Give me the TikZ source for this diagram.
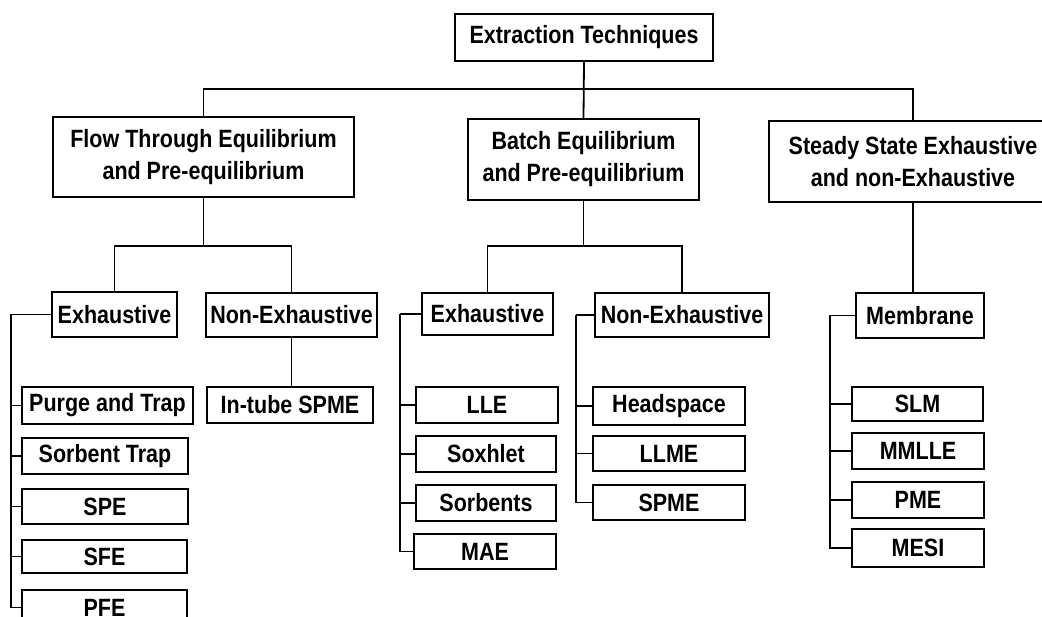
\documentclass[tikz,border=0pt]{standalone}
\usepackage{fontspec}
\setmainfont[FakeStretch=0.86]{Liberation Sans}
\tikzset{
	box/.style 2 args={draw, line width=1.8pt, minimum width=#1, minimum height=#2, inner sep=0pt, align=center, font=\fontsize{25}{32}\selectfont\bfseries},
	link/.style={line width=1.8pt}
}
\begin{document}
\begin{tikzpicture}[x=1pt,y=-1pt]
		\clip (0,0) rectangle (1042,617);
		% top level
		\node[box={258pt}{47pt}] (top) at (584,37.5) {Extraction Techniques};
		\node[box={301pt}{80pt}] (flow) at (203.5,157) {Flow Through Equilibrium\\and Pre-equilibrium};
		\node[box={231pt}{81pt}] (batch) at (583.5,159.5) {Batch Equilibrium\\and Pre-equilibrium};
		\node[box={288pt}{81pt}] (steady) at (913,161.5) {Steady State Exhaustive\\and non-Exhaustive};
		\draw[link] (top.south) -- (batch.north);
		\draw[link] (flow.north) -- ++(0,-27) -| (steady.north);
		% flow through
		\node[box={125pt}{45pt}] (fexh) at (114.5,314.5) {Exhaustive};
		\node[box={171pt}{44pt}] (fnon) at (291.5,315) {Non-Exhaustive};
		\draw[link] (flow.south) -- ++(0,48) coordinate (fb);
		\draw[link] (fexh.north) |- (fb) -| (fnon.north);
		\node[box={166pt}{36pt}] (intube) at (290,405) {In-tube SPME};
		\draw[link] (fnon.south) -- (fnon.south |- intube.north);
		\node[box={171pt}{37pt}] (purge) at (107.5,405.5) {Purge and Trap};
		\node[box={166pt}{36pt}] (strap) at (105,456) {Sorbent Trap};
		\node[box={166pt}{35pt}] (spe) at (105,506.5) {SPE};
		\node[box={165pt}{33pt}] (sfe) at (104.5,556.5) {SFE};
		\node[box={165pt}{35pt}] (pfe) at (104.5,607.5) {PFE};
		\draw[link] (fexh.west) -- ++(-40,0) coordinate (fsp);
		\foreach \n in {purge,strap,spe,sfe,pfe}
			\draw[link] (\n.west) -| (fsp);
		% batch
		\node[box={131pt}{42pt}] (bexh) at (487.5,314) {Exhaustive};
		\node[box={174pt}{44pt}] (bnon) at (682,315) {Non-Exhaustive};
		\draw[link] (batch.south) -- ++(0,45) coordinate (bb);
		\draw[link] (bexh.north) |- (bb) -| (bnon.north);
		\node[box={142pt}{36pt}] (lle) at (487,405) {LLE};
		\node[box={140pt}{36pt}] (soxhlet) at (486,454) {Soxhlet};
		\node[box={140pt}{36pt}] (sorbents) at (486,503) {Sorbents};
		\node[box={142pt}{35pt}] (mae) at (485,551.5) {MAE};
		\draw[link] (bexh.west) -- ++(-21,0) coordinate (bsp);
		\foreach \n in {lle,soxhlet,sorbents,mae}
			\draw[link] (\n.west) -| (bsp);
		\node[box={152pt}{38pt}] (headspace) at (669,406) {Headspace};
		\node[box={152pt}{35pt}] (llme) at (669,453.5) {LLME};
		\node[box={152pt}{35pt}] (spme) at (669,502.5) {SPME};
		\draw[link] (bnon.west) -- ++(-18,0) coordinate (nsp);
		\foreach \n in {headspace,llme,spme}
			\draw[link] (\n.west) -| (nsp);
		% steady state
		\node[box={128pt}{45pt}] (membrane) at (920,315.5) {Membrane};
		\draw[link] (steady.south) -- (steady.south |- membrane.north);
		\node[box={131pt}{34pt}] (slm) at (917.5,404) {SLM};
		\node[box={132pt}{36pt}] (mmlle) at (918,451) {MMLLE};
		\node[box={132pt}{36pt}] (pme) at (918,500) {PME};
		\node[box={132pt}{38pt}] (mesi) at (918,548) {MESI};
		\draw[link] (membrane.west) -- ++(-25,0) coordinate (msp);
		\foreach \n in {slm,mmlle,pme,mesi}
			\draw[link] (\n.west) -| (msp);
\end{tikzpicture}
\end{document}
